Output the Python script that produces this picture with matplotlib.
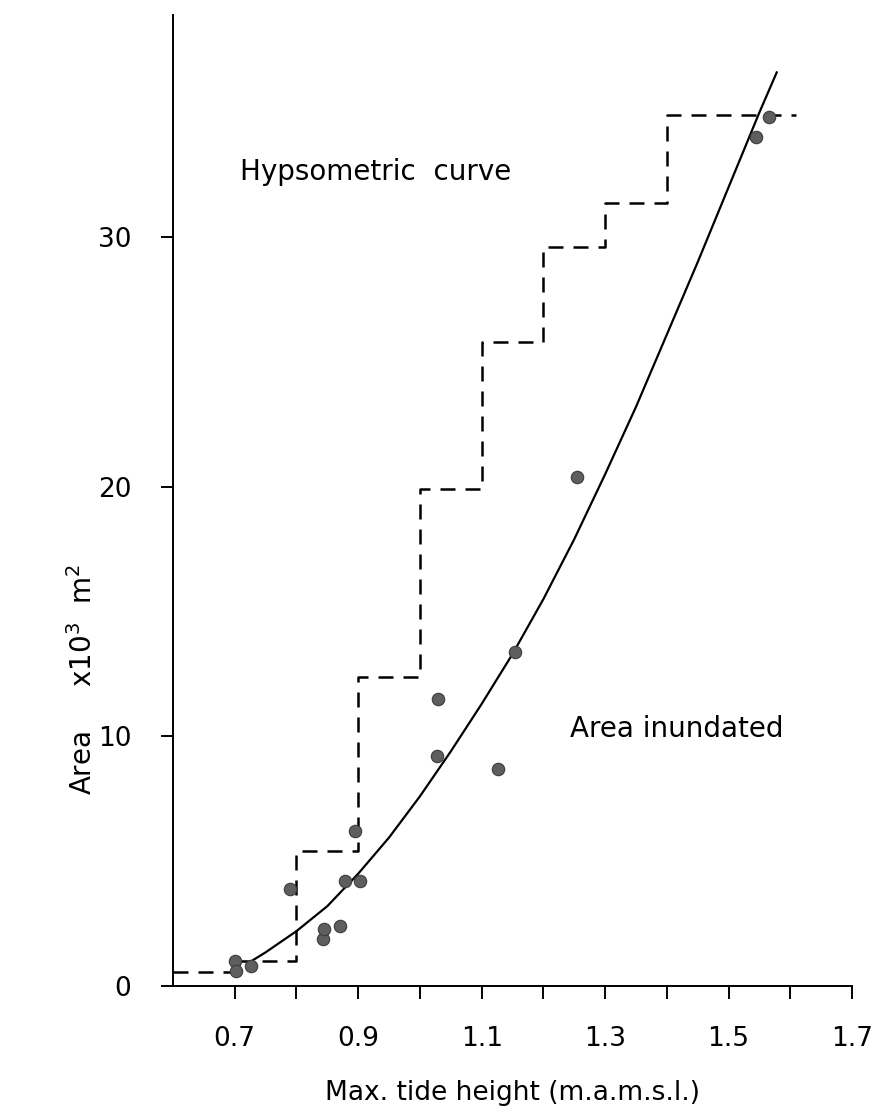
import matplotlib
matplotlib.use("Agg")
import matplotlib.pyplot as plt

# hypsometric curve (dashed steps)
hyp_x = [0.6, 0.7, 0.8, 0.9, 1.0, 1.1, 1.2, 1.3, 1.4, 1.61]
hyp_y = [0.55, 1.0, 5.4, 12.4, 19.9, 25.8, 29.6, 31.35, 34.9, 34.9]

# observed area inundated (dots)
obs_x = [0.700, 0.702, 0.727, 0.790, 0.843, 0.845, 0.870, 0.879, 0.895, 0.903,
         1.027, 1.030, 1.127, 1.154, 1.255, 1.545, 1.566]
obs_y = [1.0, 0.6, 0.8, 3.9, 1.9, 2.3, 2.4, 4.2, 6.2, 4.2,
         9.2, 11.5, 8.7, 13.4, 20.4, 34.0, 34.8]

# fitted line through the dots
fit_x = [0.727, 0.75, 0.8, 0.85, 0.9, 0.95, 1.0, 1.05, 1.1, 1.15, 1.2,
         1.25, 1.3, 1.35, 1.4, 1.45, 1.5, 1.55, 1.578]
fit_y = [1.0, 1.35, 2.2, 3.2, 4.5, 5.95, 7.6, 9.4, 11.3, 13.3, 15.5,
         17.9, 20.5, 23.2, 26.1, 29.0, 32.0, 35.0, 36.6]

xtick_pos = [0.7, 0.8, 0.9, 1.0, 1.1, 1.2, 1.3, 1.4, 1.5, 1.6, 1.7]
xtick_lab = ["0.7", "", "0.9", "", "1.1", "", "1.3", "", "1.5", "", "1.7"]
ytick_pos = [0, 10, 20, 30]
ytick_lab = ["0", "10", "20", "30"]

plt.rcParams["font.family"] = ["DejaVu Sans"]

fig = plt.figure(figsize=(8.8, 11.2), dpi=100)
ax = fig.add_axes([0.1966, 0.1196, 0.7716, 0.867])

ax.step(hyp_x, hyp_y, where="post", color="black", lw=1.8,
        linestyle=(0, (6, 4)))
ax.plot(fit_x, fit_y, color="black", lw=1.6)
ax.scatter(obs_x, obs_y, s=80, color="#5e5e5e", edgecolor="#3c3c3c",
           linewidth=0.8, zorder=3)

ax.set_xlim(0.6, 1.7)
ax.set_ylim(0, 38.9)

ax.set_xticks(xtick_pos)
ax.set_xticklabels(xtick_lab)
ax.set_yticks(ytick_pos)
ax.set_yticklabels(ytick_lab)
ax.tick_params(axis="x", direction="out", length=9, width=1.4,
               pad=20, labelsize=19)
ax.tick_params(axis="y", direction="out", length=9, width=1.4,
               pad=21, labelsize=19)

for side in ("top", "right"):
    ax.spines[side].set_visible(False)
for side in ("left", "bottom"):
    ax.spines[side].set_linewidth(1.4)

ax.set_xlabel("Max. tide height (m.a.m.s.l.)", fontsize=19, labelpad=20)
ax.set_ylabel(r"Area     x10$^{3}$  m$^{2}$", fontsize=20)
ax.yaxis.set_label_coords(-0.11, 0.316)

ax.text(0.709, 32.6, "Hypsometric  curve", fontsize=20,
        ha="left", va="center")
ax.text(1.243, 10.3, "Area inundated", fontsize=20,
        ha="left", va="center")

fig.savefig("out.png", dpi=100, facecolor="white")
